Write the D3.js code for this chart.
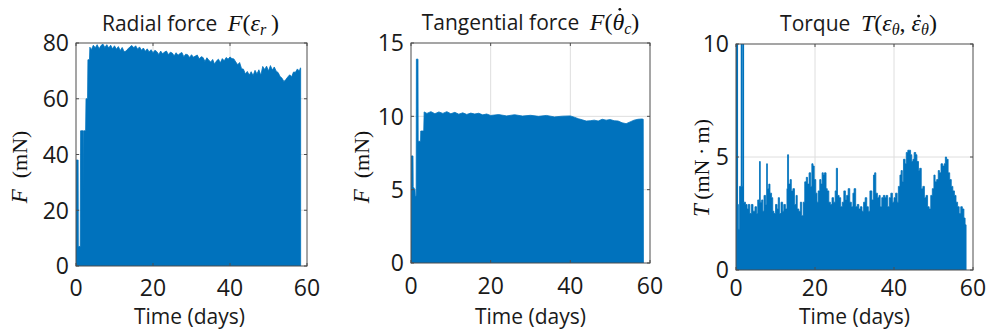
<!DOCTYPE html>
<html>
<head>
<meta charset="utf-8">
<script src="https://cdn.jsdelivr.net/npm/d3@7"></script>
<style>
  body { margin: 0; background: #fff; }
  svg { display: block; }
  .sans { font-family: "Open Sans", sans-serif; fill: #1a1a1a; }
  .math { font-family: "Liberation Serif", serif; fill: #111; }
</style>
</head>
<body>
<svg id="chart" width="987" height="329"></svg>
<script>
// ---- data ----
const dayTicks = [0, 20, 40, 60];

// Radial force F(eps_r), mN — upper envelope of the dense signal
const radialDays = [0, 0.05, 0.55, 0.6, 1.1, 1.2, 1.85, 1.9, 2.0, 2.5, 2.6, 3.0, 3.1, 3.5, 3.6, 4, 4.5, 5, 5.5, 6, 6.5, 7, 7.5, 8, 8.5, 9, 9.5, 10, 10.5, 11, 11.5, 12, 12.5, 13, 13.5, 14, 14.5, 15, 15.5, 16, 16.5, 17, 17.5, 18, 18.5, 19, 19.5, 20, 20.5, 21, 21.5, 22, 22.5, 23, 23.5, 24, 24.5, 25, 25.5, 26, 26.5, 27, 27.5, 28, 28.5, 29, 29.5, 30, 30.5, 31, 31.5, 32, 32.5, 33, 33.5, 34, 34.5, 35, 35.5, 36, 36.5, 37, 37.5, 38, 38.5, 39, 39.5, 40, 40.5, 41, 41.5, 42, 42.5, 43, 43.5, 44, 44.5, 45, 45.5, 46, 46.5, 47, 47.5, 48, 48.5, 49, 49.5, 50, 50.5, 51, 51.5, 52, 52.5, 53, 53.5, 54, 54.5, 55, 55.5, 56, 56.5, 57, 57.5, 58, 58.3, 58.35];
const radialForce = [0, 38, 38, 7, 7, 48.5, 48.5, 27, 48.5, 48.5, 60, 60, 74, 74, 78.5, 77.6, 79.2, 78.3, 79.4, 77.9, 79.1, 79.6, 78.4, 79.4, 78.2, 79.2, 77.9, 79, 77.8, 78.7, 77.3, 78.4, 76.9, 77.1, 77.9, 78.6, 79.1, 78.3, 79, 77.8, 78.6, 77.4, 78.2, 77, 77.9, 76.8, 77.6, 76.5, 77.4, 76.9, 75.9, 77.1, 76.1, 76.8, 77.1, 75.8, 76.7, 76.4, 75.4, 76.5, 75.6, 76.2, 76.6, 75.1, 76, 75.8, 74.8, 75.8, 74.9, 75.3, 75.7, 74.3, 75.1, 74.8, 73.4, 74.7, 73.8, 73.2, 74.1, 72.4, 73.6, 74.2, 72.9, 74.4, 73.6, 74.8, 74.2, 75, 74.4, 74.3, 73.2, 72.2, 73, 70.8, 70.6, 68.9, 69.8, 68.5, 69.7, 68.3, 70.2, 68.9, 70.4, 68.4, 71.6, 70.5, 71.7, 70, 71.9, 70.3, 71.4, 69.9, 69.4, 68, 67.4, 66.2, 66.9, 67.8, 68.6, 67.9, 69.6, 69.5, 70.7, 69.9, 71.1, 70.8, 0];

// Tangential force F(theta_c dot), mN
const tangDays = [0, 0.08, 0.5, 0.55, 1.0, 1.1, 1.3, 1.35, 1.75, 1.8, 2.4, 2.45, 3.2, 3.3, 4, 5, 6, 7, 8, 9, 10, 11, 12, 13, 14, 15, 16, 17, 18, 19, 20, 22, 24, 26, 28, 30, 32, 34, 36, 38, 40, 41, 42, 43, 44, 45, 46, 47, 48, 49, 50, 51, 52, 53, 54, 55, 56, 57, 58, 58.3, 58.35];
const tangForce = [0.7, 7.3, 7.3, 5.2, 5.0, 4.5, 4.6, 13.9, 13.9, 8.3, 8.3, 9.0, 9.0, 10.3, 10.2, 10.32, 10.18, 10.3, 10.2, 10.32, 10.18, 10.27, 10.15, 10.24, 10.13, 10.22, 10.16, 10.21, 10.1, 10.16, 10.06, 10.12, 10.03, 10.11, 10.02, 10.07, 10.0, 10.06, 9.96, 10.01, 10.03, 9.94, 9.84, 9.76, 9.68, 9.7, 9.74, 9.68, 9.8, 9.74, 9.78, 9.7, 9.68, 9.56, 9.5, 9.62, 9.74, 9.8, 9.82, 9.8, 0];

// Torque T(eps_theta, eps_theta dot), mN·m — envelope without the two early spikes
const torqueDays = [0, 0.02, 0.35, 0.6, 0.9, 1.3, 1.9, 2.4, 2.8, 3.1, 3.5, 3.9, 4.3, 4.8, 5.2, 5.5, 5.8, 5.95, 6.15, 6.5, 6.8, 7.1, 7.5, 7.75, 7.95, 8.3, 8.6, 9.0, 9.3, 9.6, 10.0, 10.4, 10.7, 11.0, 11.4, 11.8, 12.1, 12.5, 12.9, 13.05, 13.3, 13.7, 14.0, 14.4, 14.8, 15.2, 15.5, 15.9, 16.3, 16.6, 17.0, 17.4, 17.8, 18.1, 18.5, 18.9, 19.2, 19.5, 19.8, 20.2, 20.5, 20.8, 21.2, 21.5, 21.8, 22.1, 22.4, 22.8, 23.1, 23.5, 23.9, 24.3, 24.7, 25.1, 25.4, 25.7, 26.1, 26.5, 26.9, 27.3, 27.7, 28.0, 28.4, 28.8, 29.2, 29.6, 29.9, 30.3, 30.7, 31.1, 31.5, 31.9, 32.3, 32.7, 33.1, 33.5, 33.9, 34.4, 34.8, 35.1, 35.4, 35.8, 36.2, 36.5, 36.9, 37.3, 37.7, 38.0, 38.4, 38.8, 39.2, 39.6, 40.0, 40.4, 40.8, 41.1, 41.5, 41.8, 42.1, 42.4, 42.8, 43.1, 43.5, 43.9, 44.2, 44.5, 44.8, 45.1, 45.5, 45.8, 46.2, 46.5, 46.9, 47.3, 47.7, 48.1, 48.5, 48.9, 49.3, 49.7, 50.1, 50.4, 50.8, 51.2, 51.5, 51.9, 52.3, 52.7, 53.0, 53.3, 53.7, 54.1, 54.5, 54.9, 55.3, 55.7, 56.1, 56.5, 56.9, 57.3, 57.7, 58.0, 58.25];
const torqueValues = [0, 2.9, 2.9, 1.8, 3.7, 3.7, 3.0, 2.9, 2.7, 2.9, 2.5, 2.9, 2.6, 2.8, 2.5, 3.1, 3.0, 4.8, 3.0, 3.1, 2.6, 3.3, 2.9, 4.7, 3.6, 3.8, 3.4, 3.2, 2.6, 2.5, 2.9, 2.7, 3.2, 2.5, 3.0, 2.6, 2.9, 2.7, 3.6, 5.1, 3.8, 4.0, 3.5, 3.6, 2.9, 3.3, 2.7, 2.6, 3.0, 2.4, 3.0, 3.9, 4.1, 3.8, 4.3, 3.7, 4.7, 4.6, 4.0, 3.4, 3.0, 3.5, 4.0, 3.8, 4.3, 4.2, 4.3, 3.6, 3.5, 3.0, 2.9, 3.2, 3.0, 3.5, 4.5, 3.3, 3.2, 2.8, 3.0, 3.5, 3.1, 3.3, 3.6, 3.0, 2.8, 3.4, 3.6, 2.8, 2.9, 2.7, 2.8, 2.6, 3.0, 3.2, 2.8, 2.6, 3.5, 3.1, 4.2, 4.3, 3.4, 3.2, 3.3, 2.8, 3.2, 3.3, 3.2, 3.3, 2.8, 3.2, 3.4, 3.0, 3.2, 3.4, 3.0, 3.7, 4.2, 4.4, 3.9, 4.9, 4.7, 5.2, 5.3, 5.3, 5.1, 4.8, 4.9, 5.2, 5.1, 4.8, 4.4, 4.5, 3.6, 3.7, 3.2, 3.3, 2.8, 2.7, 3.3, 3.6, 4.2, 3.9, 4.0, 4.4, 4.3, 4.7, 4.6, 4.7, 5.0, 4.9, 4.3, 4.0, 3.7, 3.5, 3.3, 3.0, 2.8, 2.5, 2.8, 2.7, 2.3, 2.0, 0];
// the two early excursions above the axis limit (drawn as line strokes)
const torqueSpikeDays = [[0.02, 0.02, 0.32, 0.32], [1.4, 1.4, 1.85, 1.85]];
const torqueSpikeValues = [[2.9, 10.6, 10.6, 1.8], [3.7, 10.6, 10.6, 3.0]];

const blue = "#0072BD";
const axisGrey = "#4d4d4d";
const svg = d3.select("#chart");

function drawPanel(p) {
  const x = d3.scaleLinear().domain([0, 60]).range([p.x0, p.x1]);
  const y = d3.scaleLinear().domain([0, p.yMax]).range([p.y1, p.y0]);
  const g = svg.append("g");

  const clipId = "clip" + p.id;
  svg.append("clipPath").attr("id", clipId)
    .append("rect").attr("x", p.x0).attr("y", p.y0)
    .attr("width", p.x1 - p.x0).attr("height", p.y1 - p.y0);

  // grid
  g.append("g").selectAll("line").data(dayTicks.slice(1, -1)).join("line")
    .attr("x1", d => x(d)).attr("x2", d => x(d))
    .attr("y1", p.y0).attr("y2", p.y1)
    .attr("stroke", "#dedede").attr("stroke-width", 1);
  g.append("g").selectAll("line").data(p.yTicks.slice(1, -1)).join("line")
    .attr("y1", d => y(d)).attr("y2", d => y(d))
    .attr("x1", p.x0).attr("x2", p.x1)
    .attr("stroke", "#dedede").attr("stroke-width", 1);

  // data
  const pts = p.days.map((d, i) => [d, p.values[i]]);
  const area = d3.area().curve(p.curve || d3.curveLinear)
    .x(d => x(d[0])).y0(y(0)).y1(d => y(d[1]));
  g.append("path").datum(pts)
    .attr("clip-path", "url(#" + clipId + ")")
    .attr("d", area)
    .attr("fill", blue)
    .attr("stroke", blue).attr("stroke-width", 0.8);

  if (p.spikeDays) {
    const line = d3.line().x(d => x(d[0])).y(d => y(d[1]));
    p.spikeDays.forEach((ds, k) => {
      g.append("path").datum(ds.map((d, i) => [d, p.spikeValues[k][i]]))
        .attr("clip-path", "url(#" + clipId + ")")
        .attr("d", line).attr("fill", "none")
        .attr("stroke", blue).attr("stroke-width", 1.6);
    });
  }

  // box
  g.append("rect").attr("x", p.x0).attr("y", p.y0)
    .attr("width", p.x1 - p.x0).attr("height", p.y1 - p.y0)
    .attr("fill", "none").attr("stroke", axisGrey).attr("stroke-width", 1);

  // ticks (inward, both sides)
  const tl = 3;
  dayTicks.forEach(d => {
    g.append("line").attr("x1", x(d)).attr("x2", x(d)).attr("y1", p.y1).attr("y2", p.y1 - tl).attr("stroke", axisGrey);
    g.append("line").attr("x1", x(d)).attr("x2", x(d)).attr("y1", p.y0).attr("y2", p.y0 + tl).attr("stroke", axisGrey);
  });
  p.yTicks.forEach(d => {
    g.append("line").attr("y1", y(d)).attr("y2", y(d)).attr("x1", p.x0).attr("x2", p.x0 + tl).attr("stroke", axisGrey);
    g.append("line").attr("y1", y(d)).attr("y2", y(d)).attr("x1", p.x1).attr("x2", p.x1 - tl).attr("stroke", axisGrey);
  });

  // tick labels
  g.append("g").selectAll("text").data(dayTicks).join("text")
    .attr("class", "sans")
    .attr("x", d => x(d)).attr("y", p.y1 + p.xTickDy)
    .attr("text-anchor", "middle").attr("font-size", 23)
    .text(d => d);
  g.append("g").selectAll("text").data(p.yTicks).join("text")
    .attr("class", "sans")
    .attr("x", p.x0 - 7).attr("y", d => y(d)).attr("dy", "0.36em")
    .attr("text-anchor", "end").attr("font-size", 23)
    .text(d => d);

  // x label
  g.append("text").attr("class", "sans")
    .attr("x", (p.x0 + p.x1) / 2 + p.xLabelDx).attr("y", p.xLabelY)
    .attr("text-anchor", "middle").attr("font-size", 21)
    .text("Time (days)");

  // y label (rotated)
  const yl = g.append("text").attr("class", "math")
    .attr("transform", "translate(" + p.yLabelX + "," + p.yLabelY + ") rotate(-90)")
    .attr("text-anchor", "middle").attr("font-size", 22);
  p.yLabel(yl);

  // title
  const t = g.append("text")
    .attr("x", (p.x0 + p.x1) / 2 + p.titleDx).attr("y", p.titleY)
    .attr("text-anchor", "middle");
  t.append("tspan").attr("class", "sans").attr("font-size", 21).text(p.titleText + "\u2002");
  const accented = p.titleMath(t) || [];
  // accent dots over the marked glyphs
  accented.forEach(a => {
    const b = a.span.node().getBBox();
    g.append("circle")
      .attr("cx", b.x + b.width * a.fx)
      .attr("cy", p.titleY - a.h * M)
      .attr("r", 1.4).attr("fill", "#111");
  });
}

const M = 24, S = 16;
function it(sel, s, size) {
  return sel.append("tspan").attr("class", "math").attr("font-style", "italic").attr("font-size", size).text(s);
}
function up(sel, s, size) {
  return sel.append("tspan").attr("class", "math").attr("font-size", size).text(s);
}
function sub(sel, s, size) {
  return sel.append("tspan").attr("class", "math").attr("font-style", "italic")
    .attr("font-size", size).attr("baseline-shift", "-28%").text(s);
}

drawPanel({
  id: 1, x0: 76, x1: 307, y0: 43, y1: 266, yMax: 80, yTicks: [0, 20, 40, 60, 80],
  days: radialDays, values: radialForce,
  xTickDy: 30, xLabelY: 324, xLabelDx: -2, yLabelX: 27, yLabelY: 167, titleY: 31, titleDx: -1,
  titleText: "Radial force",
  titleMath: t => { it(t, "F", M); up(t, "(", M); it(t, "\u03B5", M); sub(t, "r", S); up(t, "\u2009)", M); },
  yLabel: t => { it(t, "F", 23); up(t, "\u2002(mN)", 22); }
});

drawPanel({
  id: 2, x0: 411, x1: 650, y0: 43, y1: 263, yMax: 15, yTicks: [0, 5, 10, 15],
  days: tangDays, values: tangForce,
  xTickDy: 31, xLabelY: 324, xLabelDx: 0, yLabelX: 369, yLabelY: 167, titleY: 30, titleDx: 0,
  titleText: "Tangential force",
  titleMath: t => {
    it(t, "F", M); up(t, "(", M);
    const th = it(t, "\u03B8", M);
    sub(t, "c", S);
    up(t, ")", M);
    return [{ span: th, fx: 0.62, h: 0.86 }];
  },
  yLabel: t => { it(t, "F", 23); up(t, "\u2002(mN)", 22); }
});

drawPanel({
  id: 3, x0: 736, x1: 973, y0: 44, y1: 270, yMax: 10, yTicks: [0, 5, 10],
  days: torqueDays, values: torqueValues, curve: d3.curveStepAfter,
  spikeDays: torqueSpikeDays, spikeValues: torqueSpikeValues,
  xTickDy: 26, xLabelY: 324, xLabelDx: 0, yLabelX: 709, yLabelY: 168, titleY: 31, titleDx: 4,
  titleText: "Torque",
  titleMath: t => {
    it(t, "T", M); up(t, "(", M); it(t, "\u03B5", M); sub(t, "\u03B8", S); up(t, ", ", M);
    const ep = it(t, "\u03B5", M);
    sub(t, "\u03B8", S);
    up(t, ")", M);
    return [{ span: ep, fx: 0.7, h: 0.62 }];
  },
  yLabel: t => { it(t, "T", 23); up(t, "\u2009(mN\u2009\u00B7\u2009m)", 22); }
});
</script>
</body>
</html>
